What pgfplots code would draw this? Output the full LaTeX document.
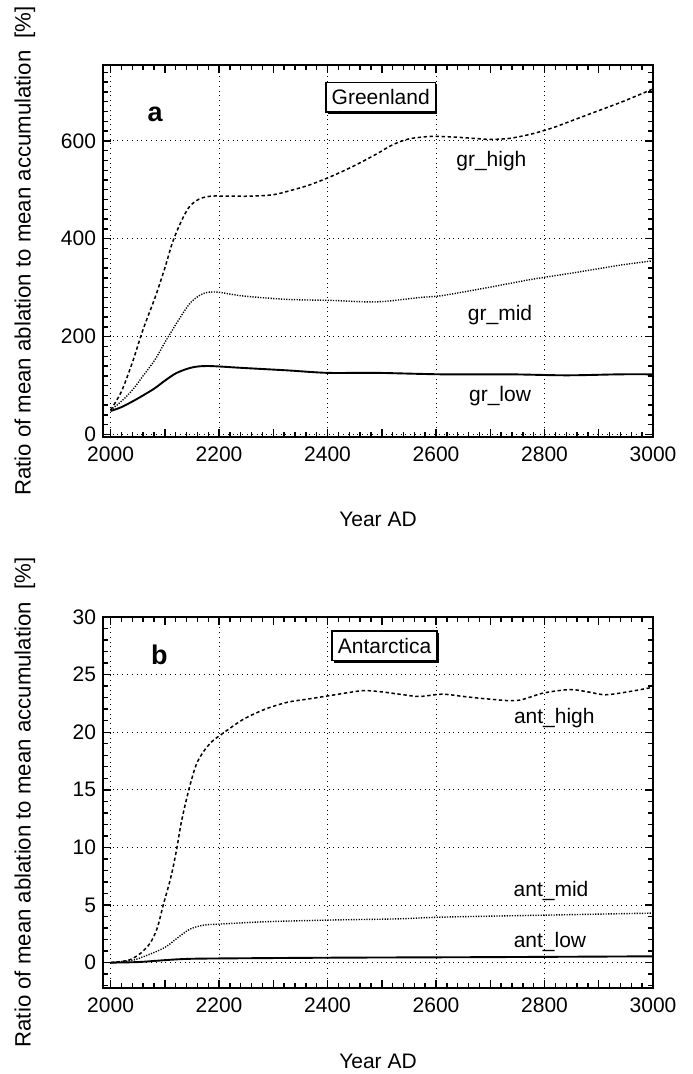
\documentclass[border=0pt]{standalone}
\usepackage{fontspec}
\setmainfont{Liberation Sans}
\usepackage{pgfplots}
\pgfplotsset{compat=1.18}
\usetikzlibrary{shadows}

% ---- Greenland (panel a) ----
\pgfplotstableread{
x y
2000 50
2020 88
2041 150
2060 215
2082 280
2100 340
2114 392
2130 435
2145 465
2163 481
2185 487
2220 487
2260 487
2300 490
2330 498
2367 510
2408 528
2449 549
2490 573
2520 592
2550 604
2590 609
2630 608
2670 605
2700 603
2735 605
2776 614
2816 627
2857 644
2898 661
2939 678
2970 692
3000 706
}\grhigh
\pgfplotstableread{
x y
2000 50
2020 68
2041 92
2060 120
2082 153
2100 188
2122 228
2147 269
2171 288
2196 291
2245 283
2327 276
2408 274
2490 271
2571 280
2612 284
2694 300
2776 317
2857 331
2939 346
3000 355
}\grmid
\pgfplotstableread{
x y
2000 48
2020 56
2041 68
2060 80
2082 95
2100 110
2122 126
2150 137
2180 140
2245 136
2327 131
2400 126
2490 126
2612 123
2735 123
2841 121
2939 123
3000 123
}\grlow

% ---- Antarctica (panel b) ----
\pgfplotstableread{
x y
2000 0
2020 0.1
2036 0.26
2055 0.8
2073 1.7
2086 3.0
2097 5.0
2106 6.5
2114 8.0
2122 9.9
2130 12.1
2139 14.0
2147 15.5
2158 17.2
2171 18.3
2187 19.2
2204 19.8
2244 21.1
2285 22.0
2326 22.6
2367 22.9
2407 23.2
2464 23.6
2500 23.5
2540 23.25
2570 23.1
2611 23.3
2651 23.1
2692 22.9
2749 22.75
2798 23.4
2847 23.7
2880 23.5
2912 23.25
2953 23.5
3000 23.9
}\anthigh
\pgfplotstableread{
x y
2000 0
2040 0.2
2065 0.6
2086 1.0
2103 1.4
2122 2.1
2146 2.9
2171 3.25
2202 3.35
2285 3.55
2407 3.7
2529 3.8
2611 3.95
2774 4.1
3000 4.3
}\antmid
\pgfplotstableread{
x y
2000 0
2050 0.05
2081 0.15
2110 0.25
2138 0.32
2187 0.36
2407 0.43
2700 0.48
3000 0.55
}\antlow

\pgfplotsset{
  panel/.style={
    scale only axis, width=275pt, anchor=south west,
    xmin=1986, xmax=3000,
    xtick={2000,2200,...,3000},
    minor xtick={2020,2040,...,2980},
    extra x ticks={2100,2300,2500,2700,2900},
    extra x tick labels={},
    extra x tick style={grid=none},
    tick align=inside,
    xmajorgrids, ymajorgrids,
    major grid style={dotted, black, line width=0.4pt},
    axis line style={line width=1.3pt},
    tick style={black, line width=0.7pt},
    major tick length=4pt, minor tick length=2.3pt,
    /pgf/number format/assume math mode=true,
    x tick label style={/pgf/number format/1000 sep={}, yshift=-1.5pt},
    xlabel={Year AD},
    ylabel={Ratio of mean ablation to mean accumulation\ \ [\%]},
    ylabel style={at={(axis description cs:-0.142,0.5)}, anchor=center,
      font=\fontsize{11.1}{13}\selectfont},
  },
  high/.style={black, line width=0.75pt, dash pattern=on 1.7pt off 1.3pt, smooth},
  mid/.style={black, line width=0.7pt, dash pattern=on 0.6pt off 0.7pt, smooth},
  low/.style={black, line width=0.95pt, smooth},
}
\tikzset{
  tag/.style={draw, line width=0.75pt, fill=white, inner xsep=2.8pt, inner ysep=3.6pt,
    drop shadow={shadow xshift=0.9pt, shadow yshift=-0.9pt, fill=black, opacity=1}},
}

\begin{document}
\begin{tikzpicture}[font=\fontsize{10.5}{12.6}\selectfont]
\path[use as bounding box] (0,0) rectangle (346pt,537pt);

\begin{axis}[panel, at={(51.5pt,318.5pt)}, height=186pt,
  xlabel style={at={(axis description cs:0.5,-0.222)}, anchor=center},
  ymin=-5, ymax=755,
  ytick={0,200,400,600},
  minor ytick={20,40,...,740}]
  \addplot[high] table {\grhigh};
  \addplot[mid] table {\grmid};
  \addplot[low] table {\grlow};
  \node[font=\fontsize{13.5}{16}\selectfont\bfseries] at (axis cs:2082,655) {a};
  \node[tag] at (axis cs:2498,689) {Greenland};
  \node at (axis cs:2702,559) {gr\_high};
  \node at (axis cs:2718,245) {gr\_mid};
  \node at (axis cs:2718,78) {gr\_low};
\end{axis}

\begin{axis}[panel, at={(51.5pt,43pt)}, height=185.5pt,
  xlabel style={at={(axis description cs:0.5,-0.198)}, anchor=center},
  ymin=-2.2, ymax=30,
  ytick={0,5,...,30},
  minor ytick={-2,-1,...,30}]
  \addplot[high] table {\anthigh};
  \addplot[mid] table {\antmid};
  \addplot[low] table {\antlow};
  \node[font=\fontsize{13.5}{16}\selectfont\bfseries] at (axis cs:2090,26.7) {b};
  \node[tag] at (axis cs:2505,27.5) {Antarctica};
  \node at (axis cs:2818,21.2) {ant\_high};
  \node at (axis cs:2812,6.2) {ant\_mid};
  \node at (axis cs:2810,1.8) {ant\_low};
\end{axis}
\end{tikzpicture}
\end{document}
